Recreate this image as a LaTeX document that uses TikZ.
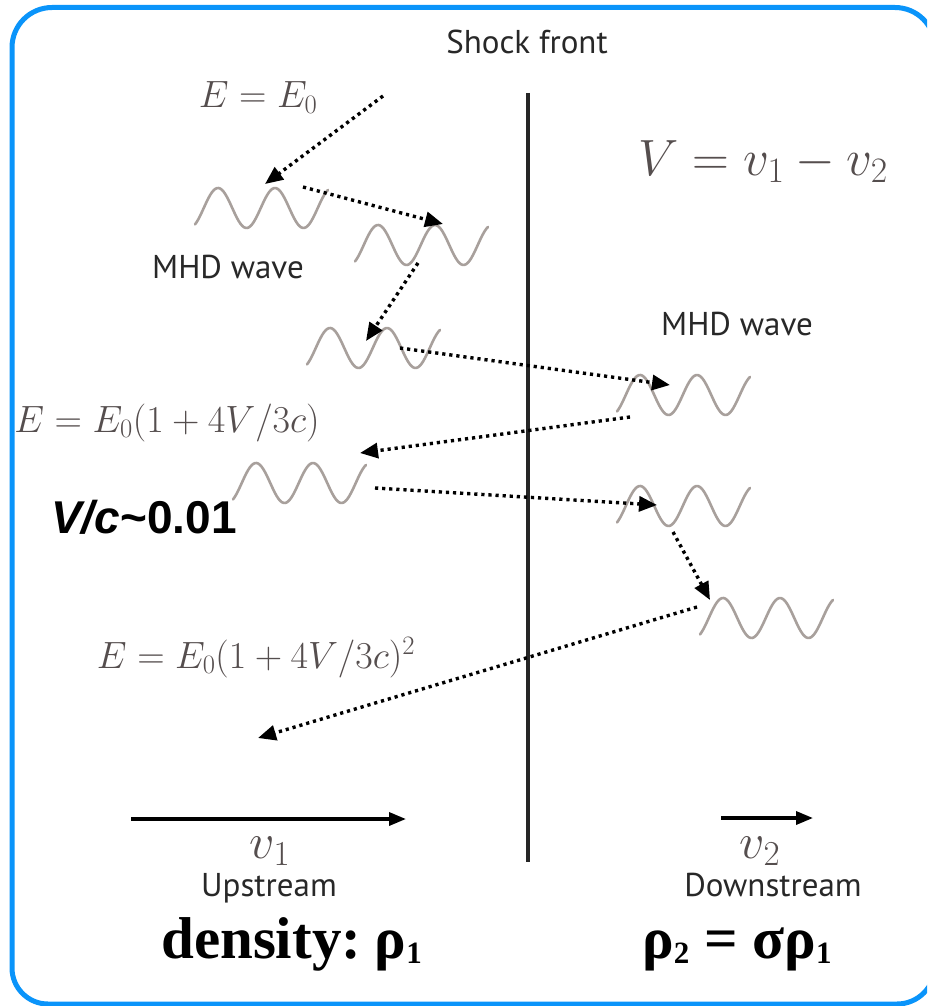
\RequirePackage{fix-cm}
\documentclass[tikz,border=0pt]{standalone}
\usepackage{fontspec}
\newfontfamily\labelfont{PT Sans}
\newfontfamily\boldserif{Liberation Serif}
\newfontfamily\arialfont{Liberation Sans}
\usetikzlibrary{arrows.meta}
\definecolor{framecol}{RGB}{10,148,250}
\definecolor{mathcol}{RGB}{85,78,78}
\definecolor{wavecol}{RGB}{168,160,156}
\definecolor{labelcol}{RGB}{40,40,40}
\newcommand\lowsub[1]{\raisebox{-5pt}{\fontsize{31}{31}\selectfont #1}}
\begin{document}
\begin{tikzpicture}[x=1pt,y=-1pt,
  wavestyle/.style={draw=wavecol, line width=2.6pt, line cap=round},
  wave/.pic={\draw[wavestyle] plot[domain=0:133, samples=80, smooth] (\x, {-20*sin((\x-8.75)/57*360)});},
  ray/.style={line width=3.4pt, dash pattern=on 3.2pt off 3.9pt, -{Triangle[length=18pt,width=15pt]}},
  flow/.style={line width=3.4pt, -{Triangle[length=17pt,width=13pt]}},
  mathlbl/.style={text=mathcol, font=\fontsize{38}{40}\selectfont, inner sep=0pt, anchor=base},
  sanslbl/.style={text=labelcol, font=\labelfont\fontsize{33}{36}\selectfont, inner sep=0pt, anchor=base},
  bigbold/.style={font=\boldserif\bfseries\fontsize{59}{62}\selectfont, inner sep=0pt, anchor=base west}]
\useasboundingbox (0,0) rectangle (927,1006);
\clip (0,0) rectangle (927,1006);
\fill[white] (0,0) rectangle (927,1006);
\draw[framecol, line width=5pt] (12,47.5) arc[start angle=180, end angle=270, radius=40]
  -- (895,7.5) arc[start angle=270, end angle=360, radius=40]
  -- (935,966) arc[start angle=0, end angle=90, radius=38]
  -- (48,1004) arc[start angle=90, end angle=180, radius=36] -- cycle;

% shock front
\coordinate (shtop) at (528,93);
\coordinate (shbot) at (528,862);
\draw[line width=3.4pt, draw=black!85] (shtop) -- (shbot);
\node[sanslbl] (shock) at (527,54) {Shock front};

% waves
\pic at (195,208) {wave};
\pic at (355,245) {wave};
\pic at (307,348) {wave};
\pic at (617,395) {wave};
\pic at (233,483) {wave};
\pic at (617,506) {wave};
\pic at (700,618) {wave};

% labels
\node[mathlbl] (e0) at (258,108) {$E = E_0$};
\node[mathlbl, font=\fontsize{51}{54}\selectfont] (vv) at (763,175) {$V = v_1 - v_2$};
\node[sanslbl] (mhdl) at (228,278) {MHD wave};
\node[sanslbl] (mhdr) at (737,335) {MHD wave};
\node[mathlbl] (e1) at (167,432) {$E = E_0(1+4V/3c)$};
\node[inner sep=0pt, anchor=base, font=\arialfont\bfseries\fontsize{46}{48}\selectfont] (vc) at (144,533) {\textit{V/c}\textasciitilde0.01};
\node[mathlbl] (e2) at (256,668) {$E = E_0(1+4V/3c)^2$};

% ray path
\coordinate (a1s) at (383,96);  \coordinate (a1e) at (265,184);
\coordinate (a2s) at (303,187); \coordinate (a2e) at (443,224);
\coordinate (a3s) at (418,263); \coordinate (a3e) at (366,341);
\coordinate (a4s) at (400,348); \coordinate (a4e) at (670,385);
\coordinate (a5s) at (630,417); \coordinate (a5e) at (360,453);
\coordinate (a6s) at (375,488); \coordinate (a6e) at (657,505);
\coordinate (a7s) at (673,532); \coordinate (a7e) at (710,600);
\coordinate (a8s) at (697,607); \coordinate (a8e) at (258,738);
\foreach \i in {1,...,8} {\draw[ray] (a\i s) -- (a\i e);}

% flow velocities
\coordinate (u1s) at (131,819); \coordinate (u1e) at (406,819);
\coordinate (u2s) at (721,818); \coordinate (u2e) at (813,818);
\draw[flow] (u1s) -- (u1e);
\draw[flow] (u2s) -- (u2e);
\node[mathlbl, font=\fontsize{50}{52}\selectfont] (v1) at (270,858) {$v_1$};
\node[mathlbl, font=\fontsize{50}{52}\selectfont] (v2) at (760,858) {$v_2$};
\node[sanslbl] (up) at (269,896) {Upstream};
\node[sanslbl] (down) at (773,896) {Downstream};
\node[bigbold] (rho1) at (161,958) {density:\hspace{-6pt} ρ\lowsub{1}};
\node[bigbold] (rho2) at (642,958) {ρ\lowsub{2} = σρ\lowsub{1}};
\end{tikzpicture}
\end{document}
